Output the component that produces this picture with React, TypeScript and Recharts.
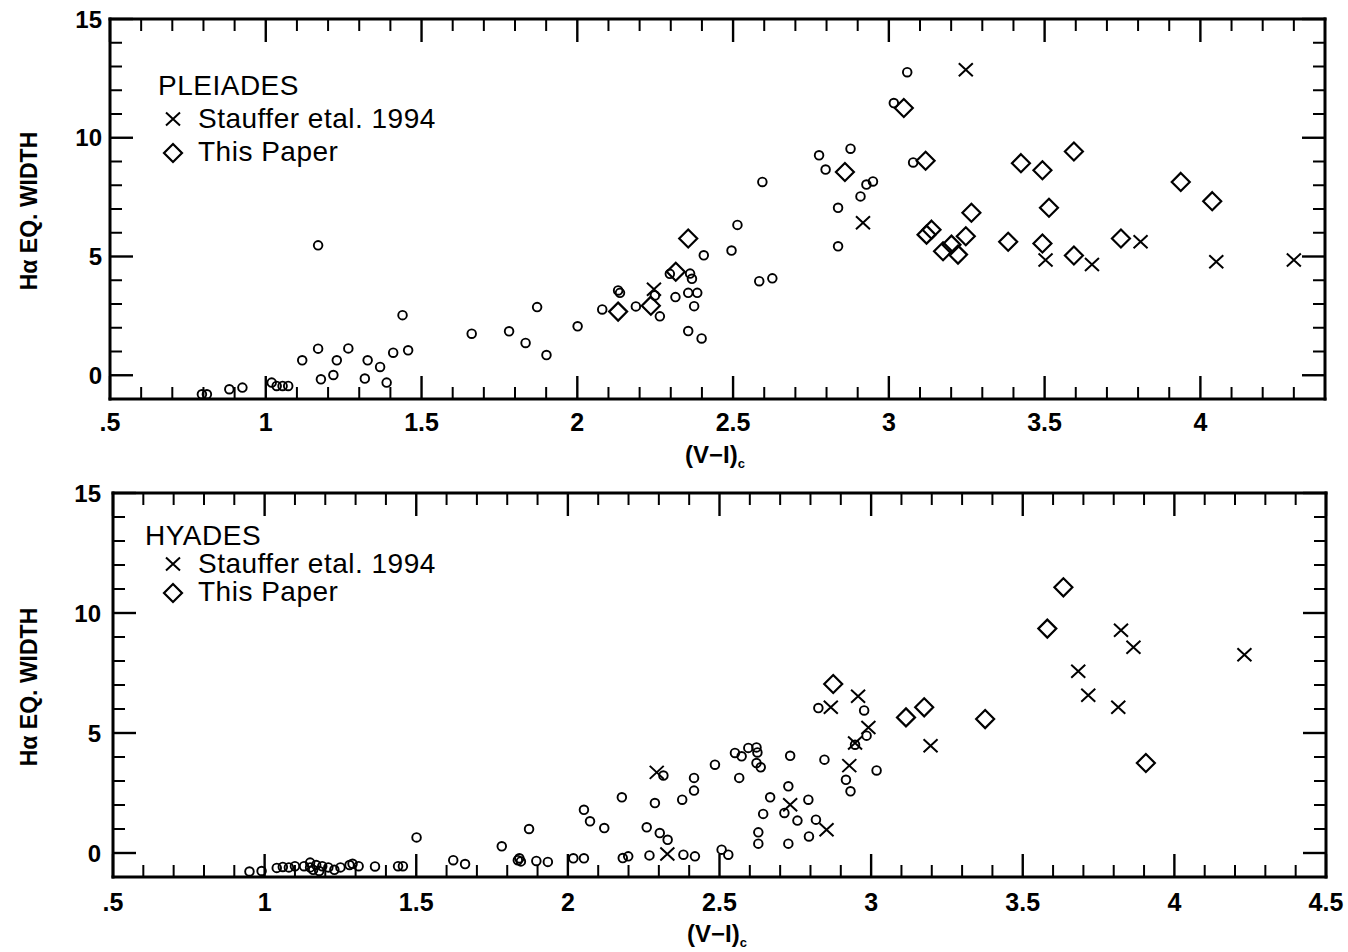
import { ScatterChart, Scatter, XAxis, YAxis } from 'recharts'

// H-alpha equivalent width against (V-I)c colour, [colour, EW]
const pleiadesStars: [number, number][] = [
  [0.795, -0.8], [0.811, -0.8], [0.883, -0.59], [0.925, -0.52], [1.019, -0.31], [1.035, -0.45],
  [1.054, -0.45], [1.072, -0.45], [1.117, 0.63], [1.168, 5.47], [1.168, 1.12], [1.177, -0.17],
  [1.217, 0.01], [1.228, 0.63], [1.265, 1.13], [1.318, -0.14], [1.327, 0.63], [1.367, 0.35],
  [1.388, -0.31], [1.409, 0.95], [1.439, 2.53], [1.457, 1.05],
  [1.661, 1.75], [1.781, 1.85], [1.834, 1.36], [1.871, 2.87], [1.901, 0.85], [2.001, 2.06],
  [2.08, 2.77], [2.131, 3.57], [2.137, 3.47], [2.188, 2.9], [2.249, 3.36], [2.265, 2.48],
  [2.297, 4.27], [2.315, 3.29], [2.356, 3.47], [2.362, 4.28], [2.368, 4.06], [2.385, 3.47],
  [2.375, 2.91], [2.356, 1.86], [2.399, 1.55], [2.406, 5.05], [2.495, 5.25], [2.514, 6.33],
  [2.584, 3.96], [2.626, 4.08], [2.594, 8.14], [2.776, 9.26], [2.797, 8.66], [2.877, 9.54],
  [2.837, 7.05], [2.837, 5.43], [2.909, 7.53], [2.928, 8.03], [2.949, 8.16],
  [3.016, 11.46], [3.059, 12.76], [3.078, 8.96],
]
const pleiadesStauffer: [number, number][] = [
  [2.246, 3.62], [2.917, 6.42], [3.247, 12.86], [3.503, 4.85], [3.652, 4.66], [3.808, 5.62],
  [4.051, 4.78], [4.3, 4.85],
]
const pleiadesThisPaper: [number, number][] = [
  [2.131, 2.68], [2.236, 2.93], [2.316, 4.36], [2.356, 5.76], [2.859, 8.56], [3.048, 11.25],
  [3.118, 9.03], [3.137, 6.13], [3.121, 5.92], [3.174, 5.22], [3.201, 5.5], [3.222, 5.08],
  [3.247, 5.85], [3.265, 6.84], [3.383, 5.62], [3.424, 8.93], [3.493, 8.63], [3.493, 5.55],
  [3.514, 7.05], [3.594, 9.42], [3.594, 5.04], [3.745, 5.76], [3.937, 8.14], [4.038, 7.33],
]

const hyadesStars: [number, number][] = [
  [0.95, -0.77], [0.99, -0.75], [1.04, -0.62], [1.06, -0.58], [1.08, -0.6], [1.1, -0.55],
  [1.13, -0.55], [1.15, -0.4], [1.16, -0.7], [1.17, -0.5], [1.18, -0.75], [1.19, -0.55],
  [1.15, -0.6], [1.21, -0.6], [1.23, -0.7], [1.25, -0.6], [1.28, -0.5], [1.29, -0.45],
  [1.31, -0.55], [1.364, -0.56], [1.44, -0.55], [1.456, -0.55], [1.501, 0.65],
  [1.622, -0.3], [1.661, -0.46], [1.782, 0.28], [1.835, -0.3], [1.84, -0.22], [1.845, -0.35],
  [1.872, 1.0], [1.896, -0.33], [1.934, -0.37], [2.018, -0.22], [2.053, -0.22], [2.053, 1.8],
  [2.073, 1.32], [2.12, 1.04], [2.178, 2.32], [2.181, -0.21], [2.199, -0.14], [2.26, 1.07],
  [2.269, -0.1], [2.287, 2.08], [2.303, 0.83], [2.315, 3.23], [2.329, 0.55], [2.377, 2.22],
  [2.381, -0.07], [2.416, 3.13], [2.416, 2.6], [2.419, -0.14], [2.485, 3.68], [2.507, 0.14],
  [2.529, -0.07], [2.551, 4.17], [2.573, 4.03], [2.565, 3.13], [2.595, 4.38], [2.622, 4.4],
  [2.625, 4.19], [2.622, 3.75], [2.636, 3.57], [2.628, 0.86], [2.628, 0.39], [2.644, 1.63],
  [2.667, 2.32], [2.727, 2.78], [2.733, 4.05], [2.714, 1.67], [2.757, 1.35], [2.727, 0.39],
  [2.793, 2.22], [2.795, 0.69], [2.818, 1.39], [2.826, 6.04], [2.846, 3.89], [2.917, 3.05],
  [2.932, 2.57], [2.977, 5.94], [2.985, 4.89], [2.947, 4.51], [3.018, 3.44],
]
const hyadesStauffer: [number, number][] = [
  [2.293, 3.36], [2.328, -0.04], [2.733, 2.01], [2.853, 0.97], [2.867, 6.07], [2.957, 6.53],
  [2.991, 5.23], [2.947, 4.58], [2.928, 3.64], [3.196, 4.47], [3.683, 7.57], [3.716, 6.57],
  [3.815, 6.07], [3.824, 9.28], [3.865, 8.57], [4.231, 8.26],
]
const hyadesThisPaper: [number, number][] = [
  [2.875, 7.04], [3.115, 5.65], [3.175, 6.07], [3.376, 5.58], [3.581, 9.35], [3.634, 11.07],
  [3.906, 3.75],
]

// axis ticks
const xMajorTicks = [0.5, 1, 1.5, 2, 2.5, 3, 3.5, 4, 4.5]
const xTickLabels = ['.5', '1', '1.5', '2', '2.5', '3', '3.5', '4', '4.5']
const yMajorTicks = [0, 5, 10, 15]
const yTickLabels = ['0', '5', '10', '15']

const range = (from: number, to: number, step: number) => {
  const out: number[] = []
  for (let v = from; v <= to + 1e-9; v += step) out.push(Math.round(v * 10) / 10)
  return out
}
const pleiadesXTicks = range(0.5, 4.3, 0.1)
const hyadesXTicks = range(0.5, 4.5, 0.1)
const yTicks = range(0, 15, 1)

const FONT = '"Liberation Sans", Arial, Helvetica, sans-serif'
const toPoints = (rows: [number, number][]) => rows.map(([x, y]) => ({ x, y }))

function Ring({ cx, cy }: { cx: number; cy: number }) {
  return <circle cx={cx} cy={cy} r={4.3} fill="none" stroke="#000" strokeWidth={1.9} />
}

function Cross({ cx, cy }: { cx: number; cy: number }) {
  const w = 7, h = 6.5
  return (
    <path
      d={`M${cx - w},${cy - h}L${cx + w},${cy + h}M${cx - w},${cy + h}L${cx + w},${cy - h}`}
      stroke="#000" strokeWidth={2} fill="none"
    />
  )
}

function Diamond({ cx, cy }: { cx: number; cy: number }) {
  const r = 9
  return (
    <path
      d={`M${cx},${cy - r}L${cx + r},${cy}L${cx},${cy + r}L${cx - r},${cy}Z`}
      stroke="#000" strokeWidth={2.2} fill="none" strokeLinejoin="miter"
    />
  )
}

const near = (a: number, b: number) => Math.abs(a - b) < 1e-6

type Side = 'bottom' | 'top' | 'left' | 'right'

// draws inward tick marks (major/minor) plus the label for major ticks on bottom/left
function AxisTick(props: any) {
  const { x, y, payload, side, labelGap } = props as {
    x: number; y: number; payload: { value: number }; side: Side; labelGap: number
  }
  const v = payload.value
  const horizontal = side === 'bottom' || side === 'top'
  const majors = horizontal ? xMajorTicks : yMajorTicks
  const idx = majors.findIndex(m => near(m, v))
  const major = idx >= 0
  const len = major ? 23 : 12
  let line
  if (side === 'bottom') line = <line x1={x} y1={y} x2={x} y2={y - len} />
  else if (side === 'top') line = <line x1={x} y1={y} x2={x} y2={y + len} />
  else if (side === 'left') line = <line x1={x} y1={y} x2={x + len} y2={y} />
  else line = <line x1={x} y1={y} x2={x - len} y2={y} />

  let label = null
  if (major && side === 'bottom') {
    label = (
      <text x={x} y={y + labelGap} textAnchor="middle" dominantBaseline="central"
        fontSize={25} fontWeight="bold" fontFamily={FONT} fill="#000">
        {xTickLabels[idx]}
      </text>
    )
  } else if (major && side === 'left') {
    label = (
      <text x={x - labelGap} y={y} textAnchor="end" dominantBaseline="central"
        fontSize={24} fontWeight="bold" fontFamily={FONT} fill="#000">
        {yTickLabels[idx]}
      </text>
    )
  }
  return (
    <g>
      <g stroke="#000" strokeWidth={major ? 2.4 : 2}>{line}</g>
      {label}
    </g>
  )
}

interface PanelProps {
  width: number
  height: number
  xMax: number
  xTicks: number[]
  frame: { top: number; bottom: number; left: number; right: number }
  xLabelGap: number
  yLabelGap: number
  stars: [number, number][]
  stauffer: [number, number][]
  thisPaper: [number, number][]
}

function Panel({ width, height, xMax, xTicks, frame, xLabelGap, yLabelGap, stars, stauffer, thisPaper }: PanelProps) {
  const axisLine = { stroke: '#000', strokeWidth: 3, strokeLinecap: 'square' as const }
  const common = {
    type: 'number' as const,
    allowDataOverflow: true,
    interval: 0 as const,
    tickSize: 0,
    tickMargin: 0,
    tickLine: false,
    axisLine,
  }
  return (
    <ScatterChart width={width} height={height} margin={{ top: 0, right: 0, bottom: 0, left: 0 }}>
      <XAxis {...common} xAxisId="b" orientation="bottom" dataKey="x" domain={[0.5, xMax]}
        ticks={xTicks} height={height - frame.bottom}
        tick={(p: any) => <AxisTick {...p} side="bottom" labelGap={xLabelGap} />} />
      <XAxis {...common} xAxisId="t" orientation="top" dataKey="x" domain={[0.5, xMax]}
        ticks={xTicks} height={frame.top}
        tick={(p: any) => <AxisTick {...p} side="top" labelGap={0} />} />
      <YAxis {...common} yAxisId="l" orientation="left" dataKey="y" domain={[-1, 15]}
        ticks={yTicks} width={frame.left}
        tick={(p: any) => <AxisTick {...p} side="left" labelGap={yLabelGap} />} />
      <YAxis {...common} yAxisId="r" orientation="right" dataKey="y" domain={[-1, 15]}
        ticks={yTicks} width={width - frame.right}
        tick={(p: any) => <AxisTick {...p} side="right" labelGap={0} />} />
      <Scatter xAxisId="b" yAxisId="l" data={toPoints(stars)} isAnimationActive={false}
        shape={(p: any) => <Ring cx={p.cx} cy={p.cy} />} />
      <Scatter xAxisId="t" yAxisId="r" data={toPoints(stauffer)} isAnimationActive={false}
        shape={(p: any) => <Cross cx={p.cx} cy={p.cy} />} />
      <Scatter xAxisId="b" yAxisId="l" data={toPoints(thisPaper)} isAnimationActive={false}
        shape={(p: any) => <Diamond cx={p.cx} cy={p.cy} />} />
    </ScatterChart>
  )
}

function Legend({ x, y, title, rowGap }: { x: number; y: number; title: string; rowGap: number }) {
  const text = { fontFamily: FONT, fontSize: 28, fill: '#000', letterSpacing: 0.5 }
  return (
    <g>
      <text x={x} y={y} {...text}>{title}</text>
      <Cross cx={173} cy={y + rowGap - 9} />
      <text x={198} y={y + rowGap} {...text}>Stauffer etal. 1994</text>
      <Diamond cx={173} cy={y + 2 * rowGap - 8} />
      <text x={198} y={y + 2 * rowGap} {...text}>This Paper</text>
    </g>
  )
}

function AxisTitles({ yCenter, xBaseline, xStart }: { yCenter: number; xBaseline: number; xStart: number }) {
  return (
    <g fontFamily={FONT} fontWeight="bold" fill="#000">
      <text transform={`translate(29,${yCenter}) rotate(-90)`} textAnchor="middle"
        dominantBaseline="central" fontSize={23}>
        Hα EQ. WIDTH
      </text>
      <text x={xStart} y={xBaseline} fontSize={24}>
        (V−I)<tspan fontSize={13} dy={5}>c</tspan>
      </text>
    </g>
  )
}

export default function App() {
  return (
    <div style={{ position: 'absolute', left: 0, top: 0, width: 1348, height: 952, background: '#fff' }}>
      <div style={{ position: 'absolute', left: 0, top: 0 }}>
        <Panel width={1348} height={470} xMax={4.4} xTicks={pleiadesXTicks}
          frame={{ top: 19, bottom: 399, left: 110, right: 1325 }}
          xLabelGap={23} yLabelGap={8}
          stars={pleiadesStars} stauffer={pleiadesStauffer} thisPaper={pleiadesThisPaper} />
      </div>
      <div style={{ position: 'absolute', left: 0, top: 470 }}>
        <Panel width={1348} height={482} xMax={4.5} xTicks={hyadesXTicks}
          frame={{ top: 23, bottom: 407, left: 113, right: 1326 }}
          xLabelGap={25} yLabelGap={12}
          stars={hyadesStars} stauffer={hyadesStauffer} thisPaper={hyadesThisPaper} />
      </div>
      <svg width={1348} height={952} style={{ position: 'absolute', left: 0, top: 0, pointerEvents: 'none' }}>
        <Legend x={158} y={95} title="PLEIADES" rowGap={33} />
        <Legend x={145} y={545} title="HYADES" rowGap={28} />
        <AxisTitles yCenter={211} xBaseline={463} xStart={685} />
        <AxisTitles yCenter={687} xBaseline={942} xStart={687} />
      </svg>
    </div>
  )
}
